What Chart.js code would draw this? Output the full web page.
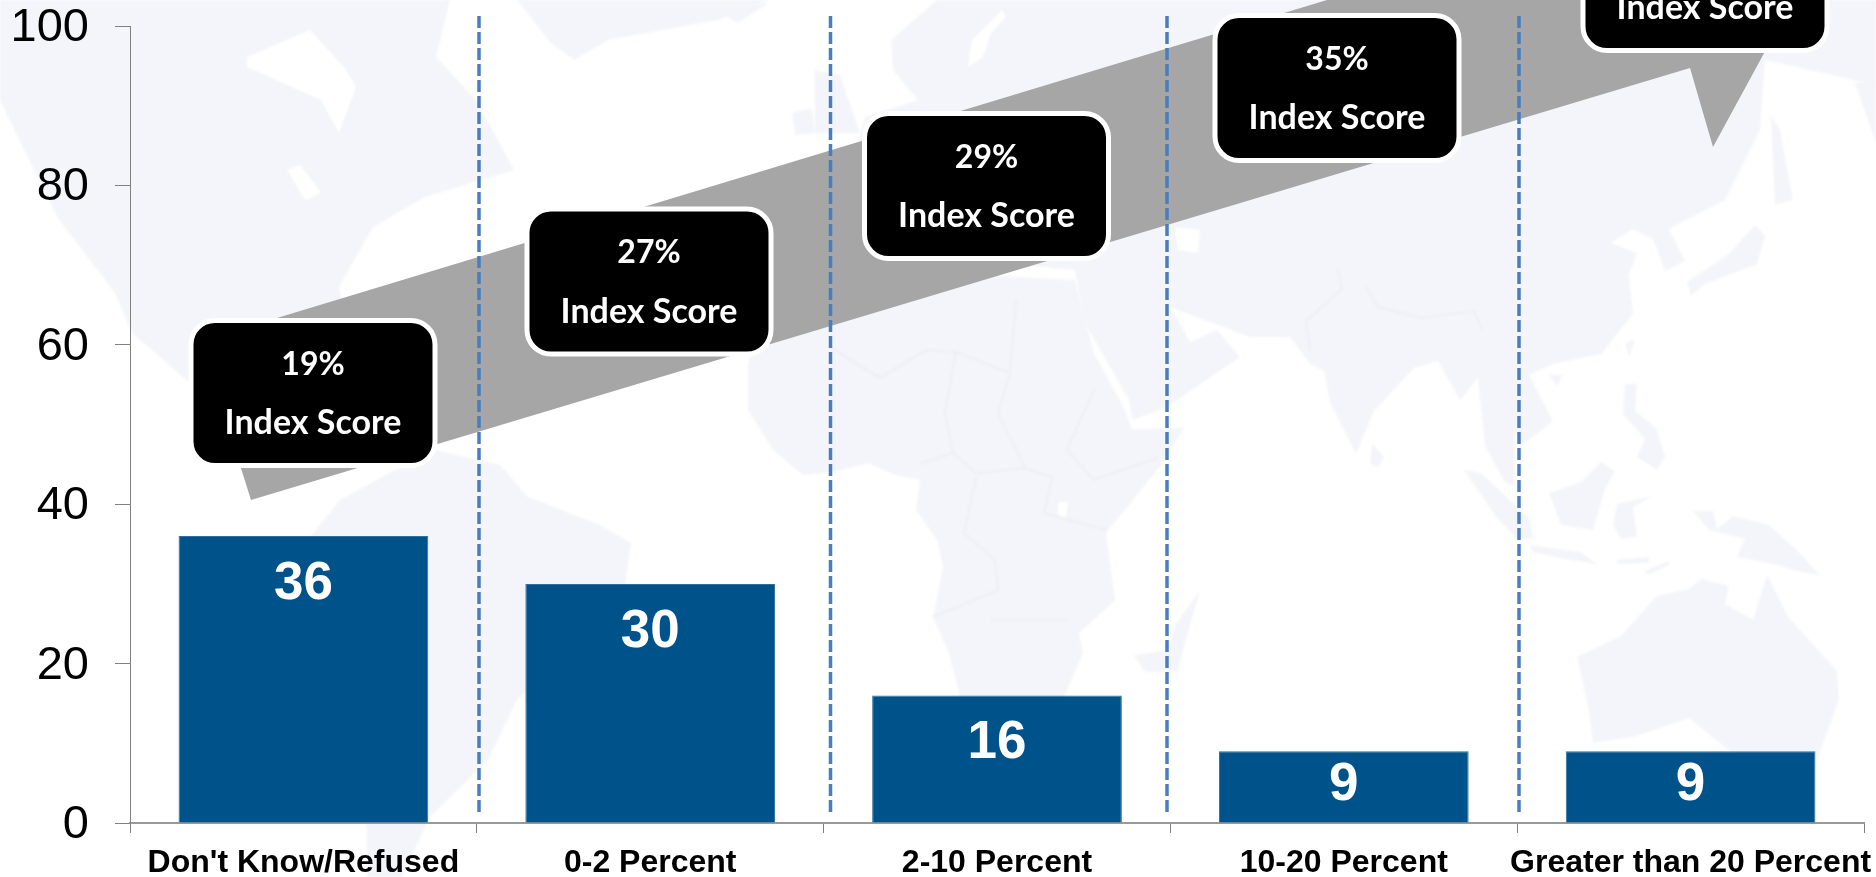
<!DOCTYPE html>
<html>
<head>
<meta charset="utf-8">
<title>Index score by share of spending</title>
<script src="https://cdn.jsdelivr.net/npm/chart.js@4/dist/chart.umd.min.js"></script>
<style>
    html, body { margin: 0; padding: 0; background: #fff; overflow: hidden; }
    canvas { display: block; }
</style>
</head>
<body>
<canvas id="chart" width="1876" height="877"></canvas>
<script>
// chart data
const categories = ["Don't Know/Refused", '0-2 Percent', '2-10 Percent', '10-20 Percent', 'Greater than 20 Percent'];
const shareValues = [36, 30, 16, 9, 9];
const yTicks = [0, 20, 40, 60, 80, 100];
const scoreLabels = ['19%', '27%', '29%', '35%', null];
const scoreCaption = 'Index Score';

const LAND_COLOR = '#f4f5fa';
const BORDER_COLOR = '#ebedf4';
const BAR_COLOR = '#00538a';
const ARROW_COLOR = '#a6a6a6';
const DASH_COLOR = '#4a7ebb';

// world map behind the chart, traced by hand
const land = [
    [[0,100],[0,0],[450,0],[436,57],[476,100],[514,170],[425,197],[373,227],[339,287],[350,340],[300,400],[240,400],[190,383],[132,333],[115,293],[57,217]],
    [[395,470],[436,450],[500,465],[528,497],[600,525],[631,543],[623,600],[517,700],[488,760],[430,817],[402,877],[367,877],[367,833],[350,700],[330,600],[300,550],[340,500]],
    [[517,0],[551,43],[574,60],[608,40],[718,20],[769,0]],
    [[711,7],[769,3],[738,23]],
    [[815,70],[840,75],[860,133],[815,133]],
    [[792,113],[812,108],[815,133],[795,135]],
    // africa
    [[748,363],[760,335],[900,270],[1075,280],[1094,353],[1125,410],[1132,430],[1184,427],[1163,463],[1106,533],[1115,600],[1079,633],[1083,653],[1064,697],[1064,760],[960,760],[960,697],[949,653],[933,617],[943,567],[937,540],[916,510],[920,480],[895,475],[868,463],[834,472],[803,475],[773,450],[748,410]],
    // madagascar
    [[1168,650],[1175,625],[1200,590],[1177,672],[1145,672],[1134,655]],
    // eurasia
    [[937,0],[891,40],[893,70],[918,100],[865,117],[850,170],[860,250],[1075,270],[1083,320],[1129,400],[1132,420],[1167,407],[1240,357],[1217,330],[1190,342],[1170,307],[1250,337],[1290,337],[1310,364],[1324,371],[1330,403],[1356,454],[1374,411],[1414,368],[1438,361],[1460,400],[1478,378],[1485,446],[1505,482],[1515,486],[1515,429],[1521,446],[1553,421],[1529,375],[1553,364],[1601,354],[1633,314],[1629,275],[1637,253],[1611,243],[1633,229],[1653,239],[1665,271],[1685,261],[1669,229],[1725,200],[1760,130],[1765,60],[1876,85],[1876,0]],
    // australia
    [[1577,657],[1621,636],[1657,596],[1689,589],[1701,579],[1729,586],[1725,604],[1753,620],[1767,575],[1789,618],[1837,671],[1839,700],[1817,760],[1741,760],[1689,718],[1637,736],[1593,743],[1589,711]],
    // new guinea and the islands
    [[1693,511],[1713,511],[1717,529],[1733,516],[1769,525],[1801,554],[1819,575],[1797,571],[1773,564],[1737,557],[1745,539],[1709,530]],
    [[1549,493],[1581,482],[1601,462],[1615,471],[1605,489],[1593,530],[1561,525]],
    [[1617,504],[1653,496],[1633,507],[1637,536],[1621,539],[1613,525]],
    [[1464,470],[1481,473],[1529,518],[1533,539],[1517,539],[1497,518]],
    [[1529,545],[1581,552],[1597,564],[1565,559],[1533,552]],
    [[1617,560],[1649,557],[1649,563],[1617,564]],
    [[1645,571],[1669,561],[1669,565],[1648,575]],
    [[1625,384],[1637,384],[1635,411],[1657,429],[1665,457],[1657,470],[1637,457],[1645,439],[1623,414]],
    [[1625,343],[1635,339],[1629,357]],
    [[1549,375],[1563,375],[1557,386]],
    [[1372,443],[1384,457],[1378,468],[1370,464]],
    [[1687,282],[1729,254],[1755,225],[1765,236],[1757,264],[1705,284],[1691,296]],
    [[1771,115],[1780,130],[1793,200],[1775,205]],
    [[1855,83],[1876,80],[1876,143]]
];

// water inside the land shapes
const water = [
    [[247,57],[310,30],[344,67],[356,87],[339,133],[321,100],[247,67]],
    [[287,170],[300,165],[321,193],[305,200]],
    [[972,40],[1002,10],[1006,17],[991,33],[983,57],[968,67]],
    [[1175,227],[1200,230],[1198,253],[1178,250]],
    [[1247,355],[1285,345],[1300,352],[1250,365]],
    [[1058,502],[1068,502],[1066,518],[1058,516]]
];

const borders = [
    [[830,347],[880,378],[926,350],[956,352],[1010,373],[1016,300]],
    [[956,352],[945,413],[953,453],[922,463]],
    [[1010,373],[998,413],[1025,468],[976,473],[953,453]],
    [[1094,390],[1067,450],[1094,480],[1159,457]],
    [[976,477],[964,533],[995,560],[998,590],[933,617]],
    [[1106,530],[1044,513],[1052,477],[1025,468]],
    [[991,620],[1067,620]],
    [[1366,286],[1378,307],[1422,318],[1474,311],[1482,329]],
    [[1338,268],[1342,289],[1306,321],[1310,350]]
];

function drawShapes(ctx, shapes, fill) {
    ctx.fillStyle = fill;
    shapes.forEach(shape => {
        ctx.beginPath();
        shape.forEach((p, i) => i ? ctx.lineTo(p[0], p[1]) : ctx.moveTo(p[0], p[1]));
        ctx.closePath();
        ctx.fill();
    });
}

function drawBorders(ctx) {
    ctx.strokeStyle = BORDER_COLOR;
    ctx.lineWidth = 1.5;
    borders.forEach(line => {
        ctx.beginPath();
        line.forEach((p, i) => i ? ctx.lineTo(p[0], p[1]) : ctx.moveTo(p[0], p[1]));
        ctx.stroke();
    });
}

function drawArrow(ctx) {
    ctx.fillStyle = ARROW_COLOR;
    ctx.beginPath();
    ctx.moveTo(201, 341);
    ctx.lineTo(1327, 0);
    ctx.lineTo(1793, 0);
    ctx.lineTo(1713, 147);
    ctx.lineTo(1690, 68);
    ctx.lineTo(251, 500);
    ctx.closePath();
    ctx.fill();
}

function drawDivider(ctx, x) {
    ctx.save();
    ctx.strokeStyle = DASH_COLOR;
    ctx.lineWidth = 3.5;
    ctx.setLineDash([12, 4]);
    ctx.beginPath();
    ctx.moveTo(x, 16);
    ctx.lineTo(x, 812);
    ctx.stroke();
    ctx.restore();
}

function drawScoreBox(ctx, left, top, label) {
    const w = 244, h = 145;
    ctx.fillStyle = '#000';
    ctx.strokeStyle = '#fff';
    ctx.lineWidth = 5;
    ctx.beginPath();
    ctx.roundRect(left, top, w, h, 24);
    ctx.fill();
    ctx.stroke();

    ctx.fillStyle = '#fff';
    ctx.textAlign = 'center';
    ctx.textBaseline = 'middle';
    if (label) {
        ctx.font = 'bold 32px Lato';
        ctx.fillText(label, left + w / 2, top + 44);
    }
    ctx.font = 'bold 34px Lato';
    ctx.fillText(scoreCaption, left + w / 2, top + 103);
}

const backdrop = {
    id: 'backdrop',
    beforeDraw(chart) {
        const ctx = chart.ctx;
        ctx.save();
        ctx.filter = 'blur(1px)';
        drawShapes(ctx, land, LAND_COLOR);
        drawShapes(ctx, water, '#fff');
        drawBorders(ctx);
        ctx.restore();
    },
    beforeDatasetsDraw(chart) {
        const ctx = chart.ctx;
        drawArrow(ctx);
        [479, 830.5, 1167, 1519].forEach(x => drawDivider(ctx, x));
        const boxes = [[191, 320.5], [527, 209], [864.5, 113.5], [1215, 15.5], [1583, -94.5]];
        boxes.forEach((b, i) => drawScoreBox(ctx, b[0], b[1], scoreLabels[i]));
    }
};

// numbers inside the bars
const barValues = {
    id: 'barValues',
    afterDatasetsDraw(chart) {
        const ctx = chart.ctx;
        ctx.fillStyle = '#fff';
        ctx.textAlign = 'center';
        ctx.textBaseline = 'middle';
        ctx.font = 'bold 53px "Liberation Sans"';
        chart.getDatasetMeta(0).data.forEach((bar, i) => {
            const offset = Math.min(48, (bar.base - bar.y) * 0.48);
            ctx.fillText(shareValues[i], bar.x, bar.y + offset);
        });
    }
};

function noScalePadding(scale) {
    scale.paddingTop = 0;
    scale.paddingBottom = 0;
    scale.paddingLeft = 0;
    scale.paddingRight = 0;
}

new Chart(document.getElementById('chart').getContext('2d'), {
    type: 'bar',
    data: {
        labels: categories,
        datasets: [{
            data: shareValues,
            backgroundColor: BAR_COLOR,
            borderColor: '#2d6f9e',
            borderWidth: 1,
            categoryPercentage: 0.72,
            barPercentage: 1
        }]
    },
    options: {
        responsive: false,
        animation: false,
        layout: { padding: { top: 26, right: 12 } },
        plugins: { legend: { display: false }, tooltip: { enabled: false } },
        scales: {
            x: {
                afterFit: scale => { scale.height = 54; noScalePadding(scale); },
                border: { color: '#999999', width: 2 },
                grid: { drawOnChartArea: false, offset: true, tickLength: 10, color: '#808080' },
                ticks: {
                    color: '#000',
                    padding: 11,
                    maxRotation: 0,
                    autoSkip: false,
                    font: { family: '"Liberation Sans"', size: 32, weight: 'bold' }
                }
            },
            y: {
                min: 0,
                max: 100,
                afterFit: scale => { scale.width = 130; noScalePadding(scale); },
                afterBuildTicks: scale => { scale.ticks = yTicks.map(v => ({ value: v })); },
                border: { color: '#808080', width: 1 },
                grid: { drawOnChartArea: false, tickLength: 15, color: '#808080' },
                ticks: {
                    color: '#000',
                    padding: 26,
                    labelOffset: 2,
                    font: { family: '"Liberation Sans"', size: 47 }
                }
            }
        }
    },
    plugins: [backdrop, barValues]
});
</script>
</body>
</html>
